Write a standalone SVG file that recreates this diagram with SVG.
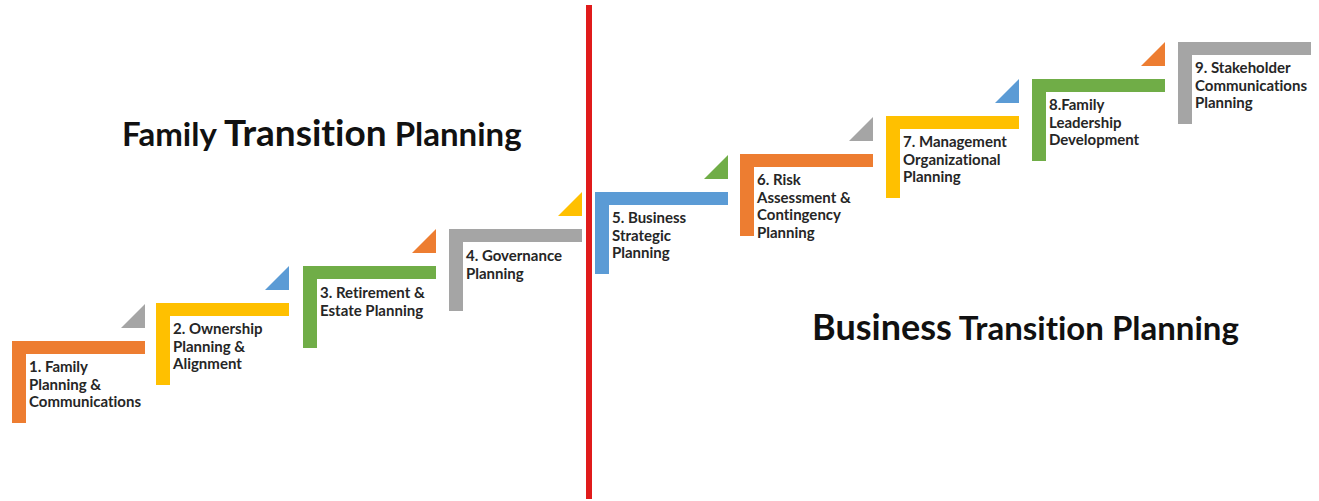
<svg xmlns="http://www.w3.org/2000/svg" width="1319" height="501" viewBox="0 0 1319 501">
  <style>
    .orange { fill: #ED7D31; }
    .yellow { fill: #FFC000; }
    .green  { fill: #70AD47; }
    .grey   { fill: #A5A5A5; }
    .blue   { fill: #5B9BD5; }
    .label  { font-family: Lato, "Liberation Sans", sans-serif; font-weight: 700; font-size: 15px; fill: #262626; font-variant-ligatures: none; }
    .title  { font-family: Lato, "Liberation Sans", sans-serif; font-weight: 700; fill: #111111; font-variant-ligatures: none; }
    .divider { fill: #E01B1B; }
  </style>
  <defs>
    <!-- L-shaped step: horizontal bar 133x13 with a 14px wide leg of 82px -->
    <path id="step" d="M0 0 h133 v13 h-119 v69 h-14 z"/>
    <!-- small right triangle that leads up to the next step -->
    <path id="rise" d="M133 -13 L133 -37 L109 -13 z"/>
  </defs>

  <rect width="1319" height="501" fill="#ffffff"/>

  <!-- section titles -->
  <g id="title-family">
    <text class="title" x="122" y="146"><tspan font-size="33">Family </tspan><tspan font-size="37">Transition</tspan><tspan font-size="33"> Planning</tspan></text>
  </g>
  <g id="title-business">
    <text class="title" x="812" y="340"><tspan font-size="36">Business</tspan><tspan font-size="33"> Transition Planning</tspan></text>
  </g>

  <!-- vertical divider between family and business planning -->
  <rect id="divider" class="divider" x="586" y="5" width="6" height="494"/>

  <!-- rising triangles joining consecutive steps -->
  <g id="connectors">
    <use href="#rise" class="grey"   transform="translate(12 341)"/>
    <use href="#rise" class="blue"   transform="translate(156 303)"/>
    <use href="#rise" class="orange" transform="translate(303 266)"/>
    <use href="#rise" class="yellow" transform="translate(449 229)"/>
    <use href="#rise" class="green"  transform="translate(595 192)"/>
    <use href="#rise" class="grey"   transform="translate(740 154)"/>
    <use href="#rise" class="blue"   transform="translate(886 116)"/>
    <use href="#rise" class="orange" transform="translate(1032 79)"/>
  </g>

  <g id="step1" transform="translate(12 341)">
    <use href="#step" class="orange"/>
    <text class="label" x="17" y="31">1. Family<tspan x="17" dy="17.5">Planning &amp;</tspan><tspan x="17" dy="17.5">Communications</tspan></text>
  </g>
  <g id="step2" transform="translate(156 303)">
    <use href="#step" class="yellow"/>
    <text class="label" x="17" y="31">2. Ownership<tspan x="17" dy="17.5">Planning &amp;</tspan><tspan x="17" dy="17.5">Alignment</tspan></text>
  </g>
  <g id="step3" transform="translate(303 266)">
    <use href="#step" class="green"/>
    <text class="label" x="17" y="32">3. Retirement &amp;<tspan x="17" dy="17.5">Estate Planning</tspan></text>
  </g>
  <g id="step4" transform="translate(449 229)">
    <use href="#step" class="grey"/>
    <text class="label" x="17" y="32">4. Governance<tspan x="17" dy="17.5">Planning</tspan></text>
  </g>
  <g id="step5" transform="translate(595 192)">
    <use href="#step" class="blue"/>
    <text class="label" x="17" y="31">5. Business<tspan x="17" dy="17.5">Strategic</tspan><tspan x="17" dy="17.5">Planning</tspan></text>
  </g>
  <g id="step6" transform="translate(740 154)">
    <use href="#step" class="orange"/>
    <text class="label" x="17" y="31">6. Risk<tspan x="17" dy="17.5">Assessment &amp;</tspan><tspan x="17" dy="17.5">Contingency</tspan><tspan x="17" dy="17.5">Planning</tspan></text>
  </g>
  <g id="step7" transform="translate(886 116)">
    <use href="#step" class="yellow"/>
    <text class="label" x="17" y="31">7. Management<tspan x="17" dy="17.5">Organizational</tspan><tspan x="17" dy="17.5">Planning</tspan></text>
  </g>
  <g id="step8" transform="translate(1032 79)">
    <use href="#step" class="green"/>
    <text class="label" x="17" y="31">8.Family<tspan x="17" dy="17.5">Leadership</tspan><tspan x="17" dy="17.5">Development</tspan></text>
  </g>
  <g id="step9" transform="translate(1178 42)">
    <use href="#step" class="grey"/>
    <text class="label" x="17" y="31">9. Stakeholder<tspan x="17" dy="17.5">Communications</tspan><tspan x="17" dy="17.5">Planning</tspan></text>
  </g>
</svg>
